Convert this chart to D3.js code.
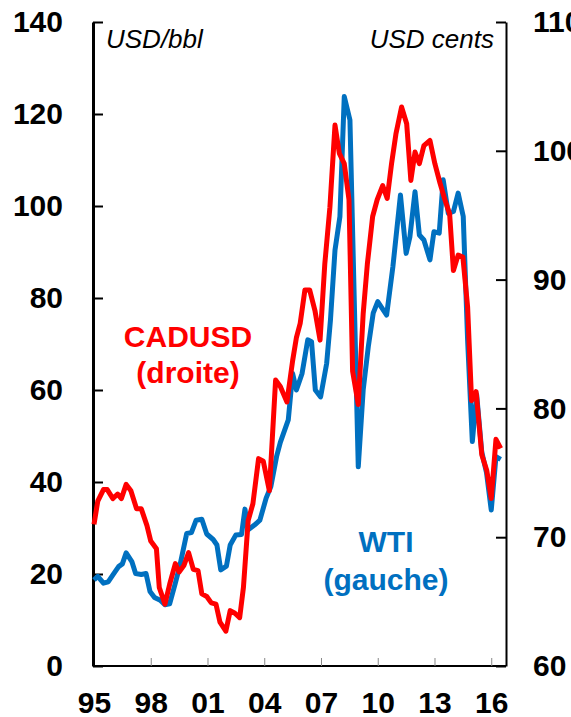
<!DOCTYPE html>
<meta charset="utf-8">
<script src="https://d3js.org/d3.v7.min.js"></script>
<style>
  body { margin: 0; background: #fff; }
  text { font-family: "Liberation Sans", Arial, sans-serif; }
</style>
<div id="chart"></div>
<script>
// WTI, USD/bbl (left axis)
var wtiYears = [1995.0, 1995.2, 1995.5, 1995.75, 1996.0, 1996.3, 1996.5, 1996.7, 1997.0, 1997.2,
  1997.5, 1997.75, 1997.96, 1998.2, 1998.5, 1998.75, 1999.0, 1999.3, 1999.55, 1999.9,
  2000.15, 2000.4, 2000.7, 2000.96, 2001.3, 2001.5, 2001.7, 2002.0, 2002.2, 2002.5,
  2002.8, 2002.98, 2003.15, 2003.5, 2003.77, 2004.1, 2004.35, 2004.65, 2004.85, 2005.27,
  2005.5, 2005.7, 2006.0, 2006.3, 2006.5, 2006.7, 2006.98, 2007.3, 2007.5, 2007.74,
  2008.0, 2008.23, 2008.53, 2008.97, 2009.23, 2009.5, 2009.76, 2010.0, 2010.47, 2010.8,
  2011.2, 2011.5, 2011.7, 2011.97, 2012.2, 2012.44, 2012.76, 2012.97, 2013.25, 2013.46,
  2013.73, 2014.0, 2014.25, 2014.52, 2014.75, 2015.0, 2015.23, 2015.5, 2015.75, 2016.0,
  2016.25, 2016.5];
var wtiValues = [18.7, 19.5, 18.0, 18.3, 19.8, 21.6, 22.2, 24.6, 22.7, 20.1,
  19.9, 20.1, 16.2, 14.9, 14.3, 13.3, 13.5, 18.0, 22.0, 28.8,
  29.0, 31.7, 31.9, 28.7, 27.5, 26.3, 20.9, 21.7, 26.3, 28.5,
  28.6, 34.1, 29.6, 30.7, 31.7, 36.5, 39.0, 45.5, 48.6, 53.5,
  63.6, 60.0, 63.6, 70.9, 70.5, 60.0, 58.5, 65.8, 75.2, 90.4,
  97.7, 123.8, 118.7, 43.3, 60.0, 69.4, 76.7, 79.2, 76.3, 86.8,
  102.4, 89.7, 93.3, 103.1, 93.7, 92.6, 88.3, 94.4, 94.1, 105.7,
  98.4, 98.8, 102.8, 97.7, 70.9, 48.8, 59.0, 46.5, 42.0, 33.9,
  45.5, 44.9];

// CADUSD, USD cents (right axis)
var cadYears = [1995.0, 1995.2, 1995.5, 1995.7, 1996.0, 1996.25, 1996.45, 1996.7, 1996.95, 1997.25,
  1997.5, 1997.8, 1998.0, 1998.3, 1998.45, 1998.75, 1999.0, 1999.3, 1999.5, 1999.75,
  2000.0, 2000.25, 2000.5, 2000.7, 2000.96, 2001.2, 2001.45, 2001.66, 2001.97, 2002.2,
  2002.45, 2002.7, 2002.9, 2003.15, 2003.4, 2003.7, 2003.95, 2004.27, 2004.6, 2004.85,
  2005.2, 2005.5, 2005.7, 2005.9, 2006.15, 2006.4, 2006.68, 2006.95, 2007.2, 2007.47,
  2007.74, 2007.97, 2008.23, 2008.48, 2008.67, 2008.97, 2009.23, 2009.45, 2009.73, 2009.97,
  2010.26, 2010.5, 2010.73, 2010.96, 2011.26, 2011.53, 2011.75, 2011.97, 2012.2, 2012.44,
  2012.76, 2013.02, 2013.29, 2013.55, 2013.8, 2014.0, 2014.25, 2014.5, 2014.75, 2014.96,
  2015.2, 2015.5, 2015.76, 2016.0, 2016.25, 2016.5];
var cadValues = [71.0, 72.8, 73.7, 73.7, 73.0, 73.35, 73.0, 74.1, 73.6, 72.2,
  72.2, 70.9, 69.7, 69.1, 66.1, 64.8, 66.35, 67.95, 67.3, 67.8,
  68.8, 67.5, 67.4, 65.6, 65.4, 64.9, 64.8, 63.4, 62.7, 64.3,
  64.1, 63.75, 66.1, 71.3, 72.6, 76.1, 75.9, 73.6, 82.2, 81.7,
  80.5, 83.7, 85.5, 86.6, 89.2, 89.2, 87.6, 85.3, 91.2, 95.6,
  102.0, 99.8, 99.0, 96.2, 82.9, 80.3, 87.35, 91.2, 94.9, 96.2,
  97.3, 96.3, 99.0, 101.3, 103.4, 102.1, 97.7, 99.9, 99.0, 100.4,
  100.8, 99.0, 97.5, 96.2, 95.1, 90.7, 91.9, 91.75, 87.9, 80.6,
  81.3, 76.4, 75.2, 73.0, 77.6, 76.9];

var xTickYears = [1995, 1998, 2001, 2004, 2007, 2010, 2013, 2016];
var leftTicks = [0, 20, 40, 60, 80, 100, 120, 140];
var rightTicks = [60, 70, 80, 90, 100, 110];

var W = 571, H = 717;
var blue = "#0070c0", red = "#ff0000";

var svg = d3.select("#chart").append("svg")
  .attr("width", W).attr("height", H);

var x = d3.scaleLinear().domain([1995, 2016.78]).range([94, 506]);
var yL = d3.scaleLinear().domain([0, 140]).range([666, 22]);
var yR = d3.scaleLinear().domain([60, 110]).range([666, 22]);

// x axis (small grey ticks pointing up)
var gx = svg.append("g")
  .attr("transform", "translate(0,666)")
  .call(d3.axisBottom(x).tickValues(xTickYears).tickSize(-8).tickSizeOuter(0).tickPadding(26)
    .tickFormat(function(d) { return String(d).slice(2); }));
gx.select(".domain").attr("stroke", "#000").attr("stroke-width", 2).attr("d", "M93,0H506");
gx.selectAll(".tick line").attr("stroke", "#888").attr("stroke-width", 1);
gx.selectAll(".tick text").attr("fill", "#000")
  .style("font-size", "30px").style("font-weight", "bold");

// left axis
var gl = svg.append("g")
  .attr("transform", "translate(93,0)")
  .call(d3.axisLeft(yL).tickValues(leftTicks).tickSize(-10).tickSizeOuter(0).tickPadding(30));
gl.select(".domain").attr("stroke", "#000").attr("stroke-width", 3);
gl.selectAll(".tick line").attr("stroke", "#000").attr("stroke-width", 2);
gl.selectAll(".tick text").attr("fill", "#000")
  .style("font-size", "30px").style("font-weight", "bold");

// right axis
var gr = svg.append("g")
  .attr("transform", "translate(506,0)")
  .call(d3.axisRight(yR).tickValues(rightTicks).tickSize(-10).tickSizeOuter(0).tickPadding(27));
gr.select(".domain").attr("stroke", "#000").attr("stroke-width", 2);
gr.selectAll(".tick line").attr("stroke", "#000").attr("stroke-width", 2);
gr.selectAll(".tick text").attr("fill", "#000")
  .style("font-size", "30px").style("font-weight", "bold");

// unit labels
svg.append("text").attr("x", 106).attr("y", 48)
  .style("font-size", "26px").style("font-style", "italic").text("USD/bbl");
svg.append("text").attr("x", 494).attr("y", 48).attr("text-anchor", "end")
  .style("font-size", "26px").style("font-style", "italic").text("USD cents");

// lines
var wti = wtiYears.map(function(d, i) { return [d, wtiValues[i]]; });
var cad = cadYears.map(function(d, i) { return [d, cadValues[i]]; });

svg.append("path").datum(wti)
  .attr("fill", "none").attr("stroke", blue).attr("stroke-width", 5)
  .attr("stroke-linejoin", "round")
  .attr("d", d3.line().x(function(d) { return x(d[0]); }).y(function(d) { return yL(d[1]); }));

svg.append("path").datum(cad)
  .attr("fill", "none").attr("stroke", red).attr("stroke-width", 5)
  .attr("stroke-linejoin", "round")
  .attr("d", d3.line().x(function(d) { return x(d[0]); }).y(function(d) { return yR(d[1]); }));

// annotations
function label(txt, cx, cy, col) {
  svg.append("text").attr("x", cx).attr("y", cy).attr("text-anchor", "middle")
    .attr("fill", col).style("font-size", "30px").style("font-weight", "bold").text(txt);
}
label("CADUSD", 188, 347, red);
label("(droite)", 188, 383, red);
label("WTI", 386, 552, blue);
label("(gauche)", 386, 590, blue);
</script>
